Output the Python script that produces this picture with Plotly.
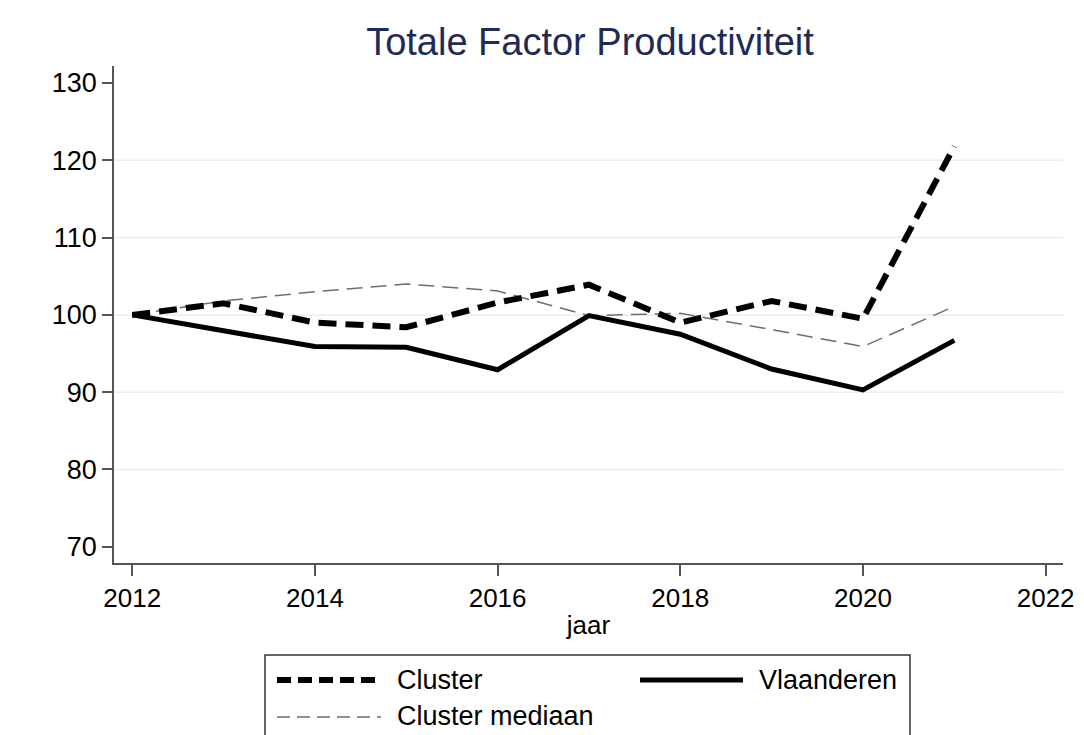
import plotly.graph_objects as go

# ---- data ----
years = [2012, 2013, 2014, 2015, 2016, 2017, 2018, 2019, 2020, 2021]
cluster = [100.0, 101.5, 99.0, 98.4, 101.6, 103.9, 99.0, 101.8, 99.5, 121.8]
vlaanderen = [100.0, 98.0, 95.9, 95.8, 92.9, 99.9, 97.5, 93.0, 90.3, 96.7]
mediaan = [100.0, 101.8, 103.0, 104.0, 103.1, 99.9, 100.2, 98.1, 95.9, 101.1]
x_ticks = [2012, 2014, 2016, 2018, 2020, 2022]
y_ticks = [70, 80, 90, 100, 110, 120, 130]
grid_vals = [80, 90, 100, 110, 120]

W, H = 1084, 735
OFF = 8  # page body margin offset
L, R, T, B = 114 - OFF, 1063 - OFF, 66 - OFF, 563 - OFF

def px(xp):
    return (xp - OFF - L) / (R - L)

def py(yp):
    return (B - (yp - OFF)) / (B - T)

fig = go.Figure()
fig.add_trace(go.Scatter(x=years, y=mediaan, mode="lines", name="Cluster mediaan",
                         line=dict(color="#6e6e6e", width=1.5, dash="16px,8px"), showlegend=False))
fig.add_trace(go.Scatter(x=years, y=vlaanderen, mode="lines", name="Vlaanderen",
                         line=dict(color="black", width=5), showlegend=False))
fig.add_trace(go.Scatter(x=years, y=cluster, mode="lines", name="Cluster",
                         line=dict(color="black", width=6, dash="18px,9px"), showlegend=False))

shapes = []
for g in grid_vals:
    shapes.append(dict(type="line", xref="paper", yref="y", x0=0, x1=1, y0=g, y1=g,
                       line=dict(color="#e6eff1", width=1.5), layer="below"))

# manual legend
shapes.append(dict(type="rect", xref="paper", yref="paper", x0=px(265), x1=px(910),
                   y0=py(655), y1=py(760), line=dict(color="#333333", width=1.5)))
shapes.append(dict(type="line", xref="paper", yref="paper", x0=px(277), x1=px(381),
                   y0=py(680), y1=py(680), line=dict(color="black", width=6, dash="14px,7px")))
shapes.append(dict(type="line", xref="paper", yref="paper", x0=px(640), x1=px(743),
                   y0=py(680), y1=py(680), line=dict(color="black", width=5)))
shapes.append(dict(type="line", xref="paper", yref="paper", x0=px(277), x1=px(381),
                   y0=py(717), y1=py(717), line=dict(color="#6e6e6e", width=1.5, dash="13px,7px")))

annotations = []
for txt, xx, yy in [("Cluster", 395, 680), ("Vlaanderen", 757, 680), ("Cluster mediaan", 395, 716)]:
    annotations.append(dict(text=txt, xref="paper", yref="paper", x=px(xx), y=py(yy),
                            xanchor="left", yanchor="middle", showarrow=False,
                            font=dict(size=27, color="black")))

fig.update_layout(
    width=W, height=H,
    margin=dict(l=L, r=W - R, t=T, b=H - B, pad=0, autoexpand=False),
    paper_bgcolor="white", plot_bgcolor="white",
    font=dict(family="Liberation Sans, Arial, sans-serif", color="black"),
    title=dict(text="Totale Factor Productiviteit", x=px(590), xref="paper", xanchor="center",
               y=1 - (42 - OFF) / H, yanchor="middle", font=dict(size=38, color="#1f2b55"),
               automargin=False),
    xaxis=dict(range=[2011.8, 2022.19], tickvals=x_ticks, ticks="outside", ticklen=11,
               tickwidth=1.5, tickcolor="#555555", showline=True, linecolor="#555555",
               linewidth=1.5, showgrid=False, zeroline=False, automargin=False,
               tickfont=dict(size=26), title=dict(text="jaar", font=dict(size=26), standoff=4)),
    yaxis=dict(range=[67.9, 132.2], tickvals=y_ticks, ticks="outside", ticklen=10,
               tickwidth=1.5, tickcolor="#555555", showline=True, linecolor="#555555",
               linewidth=1.5, showgrid=False, zeroline=False, automargin=False,
               tickfont=dict(size=27)),
    shapes=shapes, annotations=annotations,
)

fig.write_html("out.html")
